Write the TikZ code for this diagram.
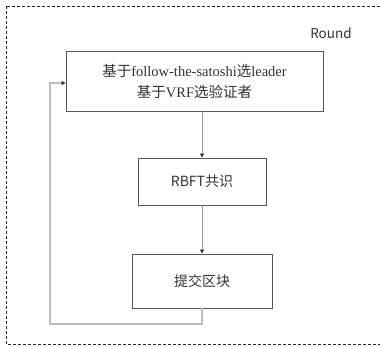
\documentclass[tikz,border=0pt]{standalone}
\usepackage{fontspec}
\setmainfont{Liberation Serif}
\newfontfamily\cjk{Noto Sans CJK SC}
\newfontfamily\lat{Liberation Serif}
\usetikzlibrary{arrows.meta}
\definecolor{txt}{HTML}{333333}
\definecolor{boxc}{HTML}{555555}
\definecolor{linec}{HTML}{999999}
\definecolor{loopc}{HTML}{BBBBBB}
\begin{document}
\begin{tikzpicture}[x=1pt,y=-1pt,
  stepbox/.style={draw=boxc,line width=0.8pt,text=txt,align=center,inner sep=0pt},
  conn/.style={draw=linec,line width=0.8pt,-{Triangle[length=4pt,width=4pt,color=black!80]}},
  loopl/.style={draw=loopc,line width=1.3pt,-{Triangle[length=4pt,width=4pt,color=black!80]}}]
\useasboundingbox (0,0) rectangle (380,347);
\draw[black!85,line width=0.6pt,dash pattern=on 3pt off 2pt] (6,6) rectangle (390,344);
\node[text=txt,font=\cjk\fontsize{13.5}{15}\selectfont,anchor=center] (round) at (331,33) {Round};
\node[stepbox,minimum width=257pt,minimum height=60pt,font=\cjk\fontsize{14.5}{21}\selectfont] (a) at (194.5,81)
  {基于{\lat follow-the-satoshi}选{\lat leader}\\基于{\lat VRF}选验证者};
\node[stepbox,minimum width=128pt,minimum height=47pt,font=\cjk\fontsize{14}{17}\selectfont] (b) at (202,181.5) {RBFT共识};
\node[stepbox,minimum width=140pt,minimum height=54pt,font=\cjk\fontsize{14}{17}\selectfont] (c) at (202,281) {提交区块};
\coordinate (p1) at (202,324);
\coordinate (p2) at (50,324);
\coordinate (p3) at (50,83);
\draw[conn] (a.south -| b.north) -- (b.north);
\draw[conn] (b.south) -- (c.north);
\draw[loopl] (c.south) -- (p1) -- (p2) -- (p3) -- (a.west |- p3);
\end{tikzpicture}
\end{document}
